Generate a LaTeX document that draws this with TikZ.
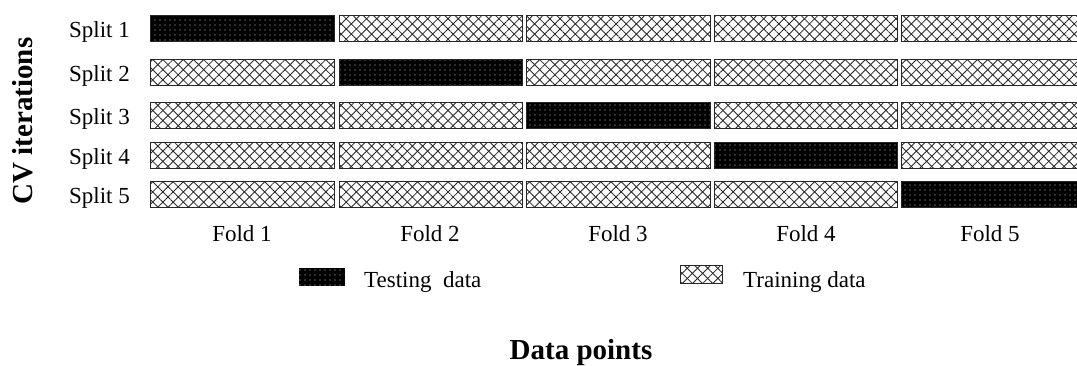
\documentclass[tikz,border=0pt]{standalone}
\usepackage{fontspec}
\setmainfont{Liberation Serif}
\usetikzlibrary{patterns.meta}
\begin{document}
\begin{tikzpicture}[x=1pt,y=-1pt,
  bar/.style={draw=black!85, line width=1pt, minimum height=26pt, inner sep=0pt, anchor=north west},
  trainbar/.style={bar,
    preaction={pattern={Lines[angle=45,distance=7.2pt,line width=0.85pt]}, pattern color=black!85},
    pattern={Lines[angle=-45,distance=7.2pt,line width=0.85pt]}, pattern color=black!85},
  testbar/.style={bar, preaction={fill=black},
    pattern={Dots[distance=5pt,radius=0.7pt]}, pattern color=white!75!black},
  small/.style={font=\fontsize{23}{27}\selectfont, inner sep=0pt},
  big/.style={font=\fontsize{29}{34}\selectfont\bfseries, inner sep=0pt}
]
\useasboundingbox (0,0) rectangle (1077,365);
\foreach \r/\t in {1/15,2/59,3/102,4/142,5/181} {
  \node[small, anchor=base east] (s\r) at (130,\t+22) {Split \r};
  \foreach \c/\l/\w in {1/150/184,2/339/183,3/526/184,4/714/183,5/901/180} {
    \ifnum\r=\c
      \node[testbar, minimum width=\w pt] (b\r\c) at (\l,\t) {};
    \else
      \node[trainbar, minimum width=\w pt] (b\r\c) at (\l,\t) {};
    \fi
  }
}
\foreach \c/\x in {1/242,2/430,3/618,4/806,5/990} {
  \node[small, anchor=base] (f\c) at (\x,241) {Fold \c};
}
\node[testbar, minimum width=46pt, minimum height=18pt, draw=none] (legtest) at (298,267) {};
\node[small, anchor=base west] (legtesttxt) at (364,287) {Testing\ \ data};
\node[trainbar, minimum width=42pt, minimum height=18pt, line width=0.8pt] (legtrain) at (680,265) {};
\node[small, anchor=base west] (legtraintxt) at (743,287) {Training data};
\node[big, rotate=90] (ylab) at (23,121) {CV iterations};
\node[big, anchor=base] (xlab) at (581,359) {Data points};
\end{tikzpicture}
\end{document}
